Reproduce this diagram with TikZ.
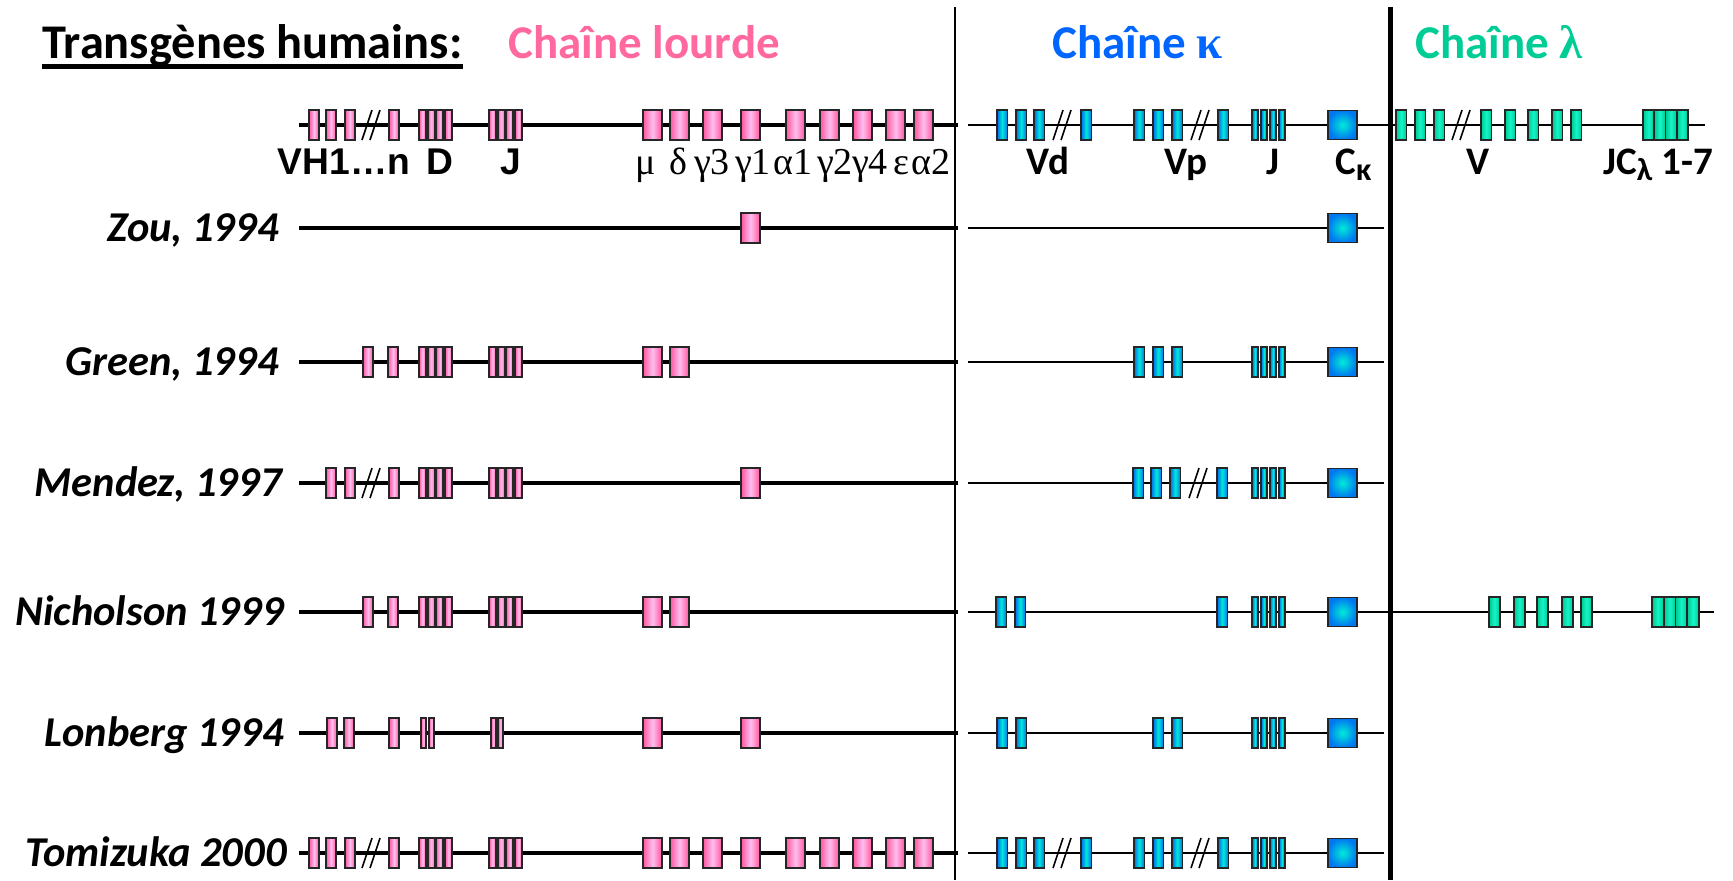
\documentclass[tikz,border=0pt]{standalone}
\usepackage{fontspec}
\setmainfont{Carlito}
\newfontfamily\greekfont{Liberation Serif}
\newfontfamily\arialfont{Liberation Sans}
\usepackage{xcolor}
\usepackage{tikz}
\usetikzlibrary{positioning}

\definecolor{pinkD}{RGB}{255,85,158}
\definecolor{pinkL}{RGB}{255,190,238}
\definecolor{blueD}{RGB}{0,105,240}
\definecolor{blueL}{RGB}{0,235,215}
\definecolor{greenD}{RGB}{0,200,145}
\definecolor{greenL}{RGB}{20,245,200}
\definecolor{pinkT}{RGB}{255,105,160}
\definecolor{blueT}{RGB}{0,102,255}
\definecolor{greenT}{RGB}{0,204,150}

\begin{document}
\begin{tikzpicture}[x=0.5pt, y=-0.5pt,
    hbox/.style={draw=black!85, line width=0.9pt, left color=pinkD, right color=pinkD, middle color=pinkL},
    kbox/.style={draw=black!85, line width=0.9pt, left color=blueD, right color=blueD, middle color=blueL},
    ckbox/.style={draw=black!85, line width=0.9pt, inner color=blueL, outer color=blueD!90!cyan},
    lbox/.style={draw=black!85, line width=0.9pt, left color=greenD, right color=greenD, middle color=greenL},
    heavy/.style={line width=2pt},
    light/.style={line width=1pt},
    brk/.style={line width=0.8pt},
    title/.style={font=\bfseries\fontsize{23.5}{28}\selectfont, anchor=base west, inner sep=0pt},
    author/.style={font=\bfseries\itshape\fontsize{21.25}{25}\selectfont, anchor=base east, inner sep=0pt},
    geneA/.style={font=\arialfont\bfseries\fontsize{18.6}{20}\selectfont, anchor=base, inner sep=0pt},
    gene/.style={font=\bfseries\fontsize{19.5}{22}\selectfont, anchor=base, inner sep=0pt},
    greek/.style={font=\greekfont\fontsize{19}{22}\selectfont, anchor=base, inner sep=0pt}]
    \useasboundingbox (0,0) rectangle (1733,880);

    % Titles
    \node[title, font=\bfseries\fontsize{24.2}{28}\selectfont] (titre) at (42,58) {Transgènes humains:};
    \draw[line width=2.5pt] ([yshift=-4pt]titre.base west) -- ([yshift=-4pt]titre.base east);
    \node[title, text=pinkT] (lourde) at (508,58) {Chaîne lourde};
    \node[title, text=blueT] (kappa) at (1052,58) {Chaîne {\greekfont κ}};
    \node[title, text=greenT] (lambda) at (1415,58) {Chaîne {\greekfont λ}};

    % Separators
    \draw[line width=1pt] (955,7) -- (955,880);
    \draw[line width=2.5pt] (1390,7) -- (1390,880);

    % Rows: loci
    \foreach \r in {228,362,483,612,733,853} {
        \draw[heavy] (299,\r) -- (958,\r);
        \draw[light] (968,\r) -- (1384,\r);
    }
    \draw[heavy] (299,125) -- (958,125);
    \draw[light] (968,125) -- (1390,125);
    \draw[light] (1380,125) -- (1705,125);
    \draw[light] (1375,612) -- (1714,612);

    % Complete loci (germline and Tomizuka 2000)
    \foreach \r in {125,853} {
        \foreach \x in {309,326,345,389} \draw[hbox] (\x,\r-15) rectangle ++(10,30);
        \draw[brk] (362,\r+15) -- ++(10,-30) (370,\r+15) -- ++(10,-30);
        \foreach \x in {419,427.7,436.3,445,489,497.7,506.3,515} \draw[hbox] (\x,\r-15) rectangle ++(7,30);
        \foreach \x in {643,670,703,741,786,820,853,886,914} \draw[hbox] (\x,\r-15) rectangle ++(19,30);
        \foreach \x in {997,1016,1034,1081,1134,1153,1172,1218} \draw[kbox] (\x,\r-15) rectangle ++(10.5,30);
        \draw[brk] (1053,\r+15) -- ++(10,-30) (1061,\r+15) -- ++(10,-30);
        \draw[brk] (1191,\r+15) -- ++(10,-30) (1199,\r+15) -- ++(10,-30);
    }
    \foreach \x in {1396,1415,1434,1481,1505,1528,1552,1571} \draw[lbox] (\x,110) rectangle ++(10.5,30);
    \draw[brk] (1452,140) -- ++(10,-30) (1460,140) -- ++(10,-30);
    \foreach \x in {1643,1654.25,1665.5,1676.75} \draw[lbox] (\x,110) rectangle ++(11.25,30);

    % Zou, 1994
    \draw[hbox] (741,213) rectangle ++(19,30);

    % Green, 1994 and Nicholson 1999
    \foreach \r in {362,612} {
        \foreach \x in {363,388} \draw[hbox] (\x,\r-15) rectangle ++(10,30);
        \foreach \x in {419,427.7,436.3,445,489,497.7,506.3,515} \draw[hbox] (\x,\r-15) rectangle ++(7,30);
        \foreach \x in {643,670} \draw[hbox] (\x,\r-15) rectangle ++(19,30);
    }
    \foreach \x in {1134,1153,1172} \draw[kbox] (\x,347) rectangle ++(10.5,30);
    \foreach \x in {996,1015,1217} \draw[kbox] (\x,597) rectangle ++(10.5,30);
    \foreach \x in {1489,1514,1537,1562,1581} \draw[lbox] (\x,597) rectangle ++(11,30);
    \foreach \x in {1652,1663.75,1675.5,1687.25} \draw[lbox] (\x,597) rectangle ++(11.75,30);

    % Mendez, 1997
    \foreach \x in {326,345,389} \draw[hbox] (\x,468) rectangle ++(10,30);
    \draw[brk] (362,498) -- ++(10,-30) (370,498) -- ++(10,-30);
    \foreach \x in {419,427.7,436.3,445,489,497.7,506.3,515} \draw[hbox] (\x,468) rectangle ++(7,30);
    \draw[hbox] (741,468) rectangle ++(19,30);
    \foreach \x in {1133,1151,1170,1217} \draw[kbox] (\x,468) rectangle ++(10.5,30);
    \draw[brk] (1189,498) -- ++(10,-30) (1197,498) -- ++(10,-30);

    % Lonberg 1994
    \foreach \x in {327,344,389} \draw[hbox] (\x,718) rectangle ++(10,30);
    \foreach \x in {421,429,491,498} \draw[hbox] (\x,718) rectangle ++(5,30);
    \foreach \x in {643,741} \draw[hbox] (\x,718) rectangle ++(19,30);
    \foreach \x in {997,1016,1153,1172} \draw[kbox] (\x,718) rectangle ++(10.5,30);

    % Kappa J and C on every row
    \foreach \r in {125,228,362,483,612,733,853} {
        \ifnum\r=228\else
        \foreach \x in {1252,1261,1270,1279} \draw[kbox] (\x,\r-15) rectangle ++(6,30);
        \fi
        \draw[ckbox] (1328,\r-14.5) rectangle ++(29,29);
    }

    % Segment labels
    \node[geneA] (vh) at (344,174) {VH1…n};
    \node[geneA] (dh) at (440,174) {D};
    \node[geneA] (jh) at (511,174) {J};
    \foreach \x/\t [count=\i] in {646/μ,678/δ,712/γ3,753/γ1,793/α1,835/γ2,870/γ4,901/ε,931/α2}
        \node[greek] (const\i) at (\x,174) {\t};
    \node[gene] (vd) at (1048,174) {Vd};
    \node[gene] (vp) at (1186,174) {Vp};
    \node[gene] (jk) at (1273,174) {J};
    \node[gene, anchor=base west] (ck) at (1335,174) {C\raisebox{-0.35ex}{\fontsize{16}{18}\selectfont κ}};
    \node[gene, anchor=base west] (jcl) at (1603,174) {JC\raisebox{-0.35ex}{\fontsize{16}{18}\selectfont λ} 1-7};
    \node[gene] (vl) at (1478,174) {V};

    % Authors
    \node[author] (zou) at (279,241) {Zou, 1994};
    \node[author] (green) at (279,375) {Green, 1994};
    \node[author] (mendez) at (282,496) {Mendez, 1997};
    \node[author] (nicholson) at (284,625) {Nicholson 1999};
    \node[author] (lonberg) at (284,746) {Lonberg 1994};
    \node[author] (tomizuka) at (287,866) {Tomizuka 2000};
\end{tikzpicture}
\end{document}
